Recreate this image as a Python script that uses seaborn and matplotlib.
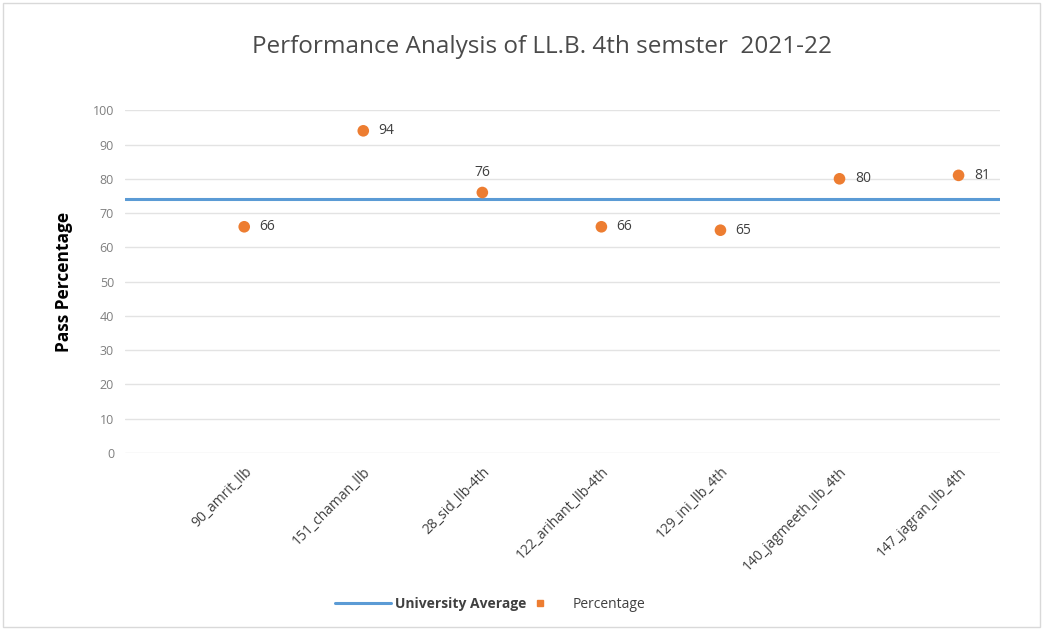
import matplotlib
matplotlib.use("Agg")
import matplotlib.pyplot as plt
import seaborn as sns
import pandas as pd

students = ["90_amrit_llb", "151_chaman_llb", "28_sid_llb-4th", "122_arihant_llb-4th",
            "129_ini_llb_4th", "140_jagmeeth_llb_4th", "147_jagran_llb_4th"]
percentage = [66, 94, 76, 66, 65, 80, 81]
university_average = 74
yticks = list(range(0, 101, 10))

sns.set_theme(style="white")
plt.rcParams['font.family'] = ['Open Sans', 'DejaVu Sans']

df = pd.DataFrame({"x": range(len(students)), "Percentage": percentage})

fig = plt.figure(figsize=(10.43, 6.3), dpi=100)
ax = fig.add_axes([0.12, 0.281, 0.839, 0.544])

for t in yticks:
    ax.axhline(t, color="#e3e3e3", lw=1, zorder=0)
ax.axhline(university_average, color="#5b9bd5", lw=2.2, zorder=1, label="University Average")
sns.scatterplot(data=df, x="x", y="Percentage", ax=ax, color="#ed7d31", s=70,
                edgecolor="none", zorder=3, label="Percentage", legend=False)
if ax.get_legend() is not None:
    ax.get_legend().remove()

for i, v in enumerate(percentage):
    if i == 2:
        ax.annotate(str(v), (i, v), xytext=(0, 9), textcoords="offset points",
                    ha="center", va="bottom", fontsize=10, color="#404040")
    else:
        ax.annotate(str(v), (i, v), xytext=(11, 0), textcoords="offset points",
                    ha="left", va="center", fontsize=10, color="#404040")

ax.set_xlim(-1.0, 6.35)
ax.set_ylim(0, 100)
ax.set_yticks(yticks)
ax.set_yticklabels([str(t) for t in yticks], color="#7f7f7f", fontsize=9)
ax.set_xticks(range(len(students)))
ax.set_xticklabels(students, rotation=45, ha="right", rotation_mode="anchor",
                   fontsize=10, color="#404040")
ax.tick_params(axis="both", length=0, pad=8)
ax.set_xlabel("")
ax.set_ylabel("Pass Percentage", fontsize=12.5, fontweight="bold", color="#000000", labelpad=14)
for s in ax.spines.values():
    s.set_visible(False)
ax.grid(False)

fig.suptitle("Performance Analysis of LL.B. 4th semster  2021-22", x=0.52, y=0.945,
             fontsize=17.5, color="#4a4a4a")

line_h = plt.Line2D([], [], color="#5b9bd5", lw=2.2)
pt_h = plt.Line2D([], [], color="#ed7d31", marker="s", ls="none", markersize=5)
leg = fig.legend([line_h, pt_h], ["University Average", "Percentage"], loc="center",
                 bbox_to_anchor=(0.47, 0.04), ncol=2, frameon=False,
                 fontsize=10, handlelength=4, columnspacing=-1.0, handletextpad=0.3)
for t in leg.get_texts():
    t.set_color("#404040")
leg.get_texts()[0].set_fontweight("bold")

fig.patches.append(plt.Rectangle((0.003, 0.005), 0.994, 0.99, transform=fig.transFigure,
                                 fill=False, edgecolor="#d9d9d9", lw=1))
fig.savefig("out.png", dpi=100)
